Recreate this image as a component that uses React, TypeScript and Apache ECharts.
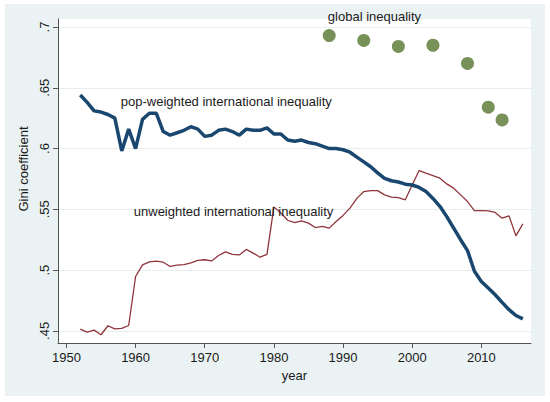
import React, { useEffect, useRef } from 'react'
import * as echarts from 'echarts'

// Gini coefficients, 1952-2016
const popWeighted = [
  0.644, 0.638, 0.631, 0.63, 0.628, 0.625, 0.598, 0.616, 0.6, 0.624,
  0.629, 0.629, 0.614, 0.611, 0.613, 0.615, 0.618, 0.616, 0.61, 0.611,
  0.615, 0.616, 0.614, 0.611, 0.616, 0.615, 0.615, 0.617, 0.612, 0.612,
  0.607, 0.606, 0.607, 0.605, 0.604, 0.602, 0.6, 0.6, 0.599, 0.597,
  0.593, 0.589, 0.585, 0.58, 0.5755, 0.5735, 0.5725, 0.5707, 0.57, 0.568,
  0.5646, 0.559, 0.5525, 0.544, 0.5345, 0.525, 0.516, 0.499, 0.4906, 0.4852,
  0.4797, 0.4734, 0.4674, 0.4626, 0.4599
]

const unweighted = [
  0.4514, 0.449, 0.4506, 0.4468, 0.4542, 0.4517, 0.452, 0.4544, 0.4947, 0.5043,
  0.5068, 0.5074, 0.5065, 0.503, 0.504, 0.5045, 0.506, 0.508, 0.5085, 0.5075,
  0.512, 0.515, 0.513, 0.5125, 0.517, 0.514, 0.5106, 0.513, 0.552, 0.547,
  0.541, 0.539, 0.5405, 0.5386, 0.535, 0.536, 0.5345, 0.54, 0.545, 0.551,
  0.559, 0.5646, 0.5654, 0.5654, 0.5619, 0.56, 0.5597, 0.5578, 0.57, 0.5819,
  0.5797, 0.5778, 0.5756, 0.5709, 0.5674, 0.5619, 0.5564, 0.549, 0.549, 0.5487,
  0.5474, 0.5427, 0.5446, 0.5282, 0.538
]

const years = popWeighted.map((_, i) => 1952 + i)

const globalYears = [1988, 1993, 1998, 2003, 2008, 2011, 2013]
const globalGini = [0.693, 0.689, 0.684, 0.685, 0.67, 0.634, 0.6235]

const xTicks = [1950, 1960, 1970, 1980, 1990, 2000, 2010]
const yTicks = [0.45, 0.5, 0.55, 0.6, 0.65, 0.7]

const seriesLabels = [
  'pop-weighted international inequality',
  'unweighted international inequality',
  'global inequality'
]

const FONT = "'Liberation Sans', Arial, sans-serif"

const App: React.FC = () => {
  const chartRef = useRef<HTMLDivElement>(null)

  useEffect(() => {
    if (!chartRef.current) return
    const chart = echarts.init(chartRef.current, undefined, { renderer: 'svg' })

    const textLabel = (text: string, offset: number[] = [0, 0]) => ({
      show: true,
      position: 'right',
      distance: 0,
      offset,
      formatter: text,
      color: '#1a1a1a',
      fontSize: 13,
      fontFamily: FONT
    })

    const option: echarts.EChartsOption = {
      animation: false,
      backgroundColor: '#eaf2f3',
      textStyle: { fontFamily: FONT },
      grid: {
        left: 53,
        top: 15,
        right: 14,
        bottom: 53,
        outerBoundsMode: 'none',
        containLabel: false,
        show: true,
        backgroundColor: '#ffffff',
        borderWidth: 0
      } as any,
      xAxis: {
        type: 'value',
        min: 1948.78,
        max: 2017.18,
        name: 'year',
        nameLocation: 'middle',
        nameGap: 26,
        nameTextStyle: { color: '#1a1a1a', fontSize: 13, fontFamily: FONT },
        axisLine: { show: true, lineStyle: { color: '#555', width: 1 } },
        axisTick: { show: true, length: 5, customValues: xTicks, lineStyle: { color: '#555' } },
        axisLabel: {
          customValues: xTicks,
          color: '#1a1a1a',
          fontSize: 13,
          margin: 8,
          fontFamily: FONT,
          formatter: (v: number) => String(Math.round(v))
        },
        splitLine: { show: false }
      },
      yAxis: {
        type: 'value',
        min: 0.44,
        max: 0.7066,
        name: 'Gini coefficient',
        nameLocation: 'middle',
        nameGap: 21,
        nameTextStyle: { color: '#1a1a1a', fontSize: 13, fontFamily: FONT, padding: [0, 0, 0, 24] },
        axisLine: { show: true, lineStyle: { color: '#555', width: 1 } },
        axisTick: { show: true, length: 5, customValues: yTicks, lineStyle: { color: '#555' } },
        axisLabel: {
          customValues: yTicks,
          rotate: 90,
          color: '#1a1a1a',
          fontSize: 13,
          margin: 7,
          fontFamily: FONT,
          formatter: (v: number) => String(Number(v.toFixed(2))).replace(/^0/, '')
        },
        splitLine: { show: true, lineStyle: { color: '#e6eded', width: 1 } }
      },
      series: [
        {
          type: 'line',
          name: seriesLabels[0],
          data: years.map((y, i) => [y, popWeighted[i]]),
          showSymbol: false,
          lineStyle: { color: '#1a476f', width: 3.5 },
          itemStyle: { color: '#1a476f' },
          z: 3,
          markPoint: {
            symbol: 'circle',
            symbolSize: 0,
            silent: true,
            data: [{ coord: [1957.86, 0.6387], label: textLabel(seriesLabels[0]) }]
          }
        },
        {
          type: 'line',
          name: seriesLabels[1],
          data: years.map((y, i) => [y, unweighted[i]]),
          showSymbol: false,
          lineStyle: { color: '#90353b', width: 1.3 },
          itemStyle: { color: '#90353b' },
          z: 2,
          markPoint: {
            symbol: 'circle',
            symbolSize: 0,
            silent: true,
            data: [{ coord: [1959.74, 0.5483], label: textLabel(seriesLabels[1]) }]
          }
        },
        {
          type: 'scatter',
          name: seriesLabels[2],
          data: globalYears.map((y, i) => [y, globalGini[i]]),
          symbol: 'circle',
          symbolSize: 13,
          itemStyle: { color: '#55752f' },
          z: 4,
          markPoint: {
            symbol: 'circle',
            symbolSize: 0,
            silent: true,
            data: [{ coord: [1987.8, 0.7066], label: textLabel(seriesLabels[2], [0, -2.5]) }]
          }
        }
      ]
    }

    chart.setOption(option)
    return () => {
      chart.dispose()
    }
  }, [])

  return (
    <div
      style={{
        position: 'fixed',
        left: 0,
        top: 0,
        width: 550,
        height: 402,
        background: '#ffffff'
      }}
    >
      <div
        ref={chartRef}
        style={{ position: 'absolute', left: 5, top: 4, width: 540, height: 392 }}
      />
    </div>
  )
}

export default App
